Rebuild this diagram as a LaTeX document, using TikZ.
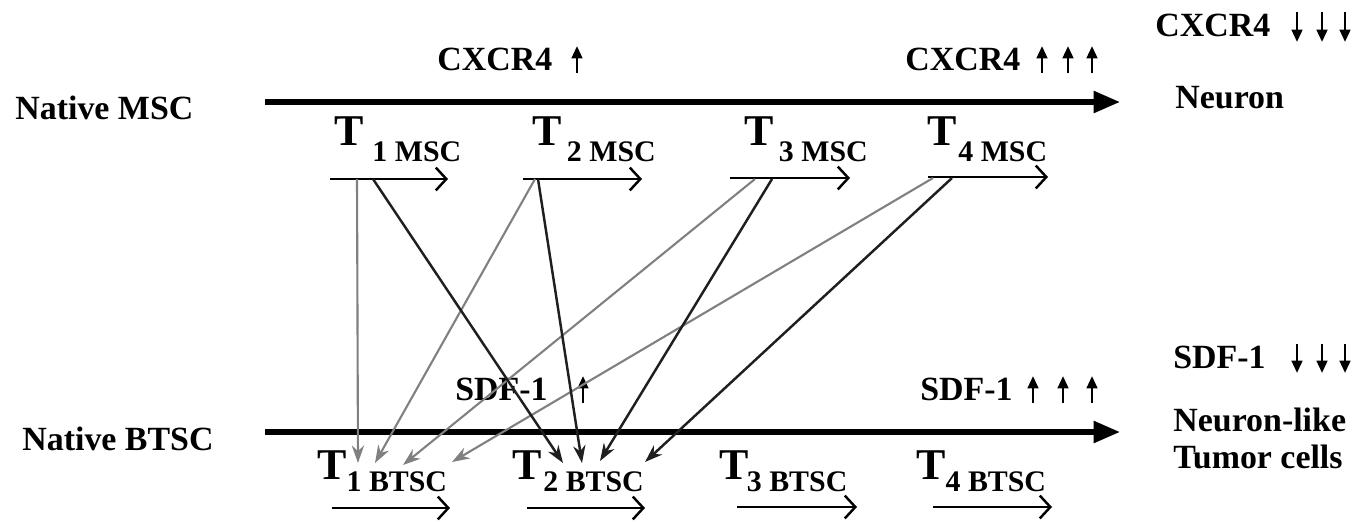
\documentclass[tikz,border=0pt]{standalone}
\usepackage{fontspec}
\setmainfont{Liberation Serif}
\usetikzlibrary{arrows.meta}
\newcommand\TTlab[3]{{\fontsize{25}{25}\selectfont T}\hspace{#3}\raisebox{-#2}{\fontsize{17}{17}\selectfont #1}}
\begin{document}
\begin{tikzpicture}[x=0.02cm,y=-0.02cm,
  lab/.style={inner sep=0pt,anchor=base west,font=\fontsize{19.3}{22}\selectfont\bfseries},
  tlab/.style={inner sep=0pt,anchor=base west,font=\bfseries},
  mainarr/.style={line width=3pt,-{Triangle[length=15pt,width=12pt]}},
  steparr/.style={line width=1.4pt,-{Straight Barb[length=6pt,width=13pt]}},
  garr/.style={draw=black!50,line width=1.2pt,-{Stealth[length=10pt,width=7pt]}},
  barr/.style={draw=black!88,line width=1.4pt,-{Stealth[length=10pt,width=7pt]}},
  levarr/.style={line width=1.5pt,-{Triangle[length=7pt,width=6pt]}}
]
\useasboundingbox (0,0) rectangle (1368,521);

% labels left and right
\node[lab] (nmsc) at (15,119) {Native MSC};
\node[lab] (nbtsc) at (22,450) {Native BTSC};
\node[lab] (neuron) at (1175,108) {Neuron};
\node[lab] (cxd) at (1155,36) {CXCR4};
\node[lab] (sdfd) at (1173,368) {SDF-1};
\node[lab,align=left,anchor=north west] (ntc) at (1173,408) {Neuron-like\\[-1pt]Tumor cells};

% marker labels
\node[lab] (cx1) at (437,70) {CXCR4};
\node[lab] (cx3) at (905,70) {CXCR4};
\node[lab] (sdf1) at (455,400) {SDF-1};
\node[lab] (sdf3) at (920,400) {SDF-1};

% level arrows (up / down)
\foreach \x in {577} {\draw[levarr] (\x,73) -- (\x,46);}
\foreach \x in {1042,1068,1092} {\draw[levarr] (\x,73) -- (\x,46);}
\foreach \x in {583} {\draw[levarr] (\x,403) -- (\x,376);}
\foreach \x in {1033,1063,1092} {\draw[levarr] (\x,403) -- (\x,376);}
\foreach \x in {1297,1322,1345} {\draw[levarr] (\x,12) -- (\x,42);}
\foreach \x in {1297,1322,1345} {\draw[levarr] (\x,344) -- (\x,373);}

% main arrows
\coordinate (ms) at (265,102);
\coordinate (me) at (1120,102);
\coordinate (bs) at (265,432);
\coordinate (be) at (1120,432);
\draw[mainarr] (ms) -- (me);
\draw[mainarr] (bs) -- (be);

% time labels MSC
\node[tlab] (tm1) at (334,145) {\TTlab{1 MSC}{9.6pt}{5pt}};
\node[tlab] (tm2) at (532,145) {\TTlab{2 MSC}{9.6pt}{3pt}};
\node[tlab] (tm3) at (744,145) {\TTlab{3 MSC}{9.6pt}{3pt}};
\node[tlab] (tm4) at (927,145) {\TTlab{4 MSC}{9.6pt}{1pt}};
% time labels BTSC
\node[tlab] (tb1) at (317,479) {\TTlab{1 BTSC}{7pt}{0pt}};
\node[tlab] (tb2) at (512,479) {\TTlab{2 BTSC}{7pt}{1pt}};
\node[tlab] (tb3) at (719,479) {\TTlab{3 BTSC}{7pt}{-1pt}};
\node[tlab] (tb4) at (916,479) {\TTlab{4 BTSC}{7pt}{0pt}};

% step arrows
\coordinate (sm1s) at (330,179); \coordinate (sm1e) at (448,179);
\coordinate (sm2s) at (523,179); \coordinate (sm2e) at (642,179);
\coordinate (sm3s) at (730,178); \coordinate (sm3e) at (850,178);
\coordinate (sm4s) at (928,177); \coordinate (sm4e) at (1048,177);
\coordinate (sb1s) at (332,508); \coordinate (sb1e) at (450,508);
\coordinate (sb2s) at (527,508); \coordinate (sb2e) at (645,508);
\coordinate (sb3s) at (737,507); \coordinate (sb3e) at (857,507);
\coordinate (sb4s) at (933,507); \coordinate (sb4e) at (1052,507);
\foreach \n in {m1,m2,m3,m4,b1,b2,b3,b4}{\draw[steparr] (s\n s) -- (s\n e);}

% connector origins
\coordinate (m1a) at (357,179); \coordinate (m1b) at (373,179);
\coordinate (m2a) at (535,179); \coordinate (m2b) at (538,179);
\coordinate (m3a) at (755,179); \coordinate (m3b) at (772,179);
\coordinate (m4a) at (933,178); \coordinate (m4b) at (952,178);
% connector targets
\coordinate (b1a) at (358,463); \coordinate (b1b) at (375,463);
\coordinate (b1c) at (403,465); \coordinate (b1d) at (452,462);
\coordinate (b2a) at (563,463); \coordinate (b2b) at (582,463);
\coordinate (b2c) at (600,461); \coordinate (b2d) at (645,462);

\draw[garr] (m1a) -- (b1a);
\draw[garr] (m2a) -- (b1b);
\draw[garr] (m3a) -- (b1c);
\draw[garr] (m4a) -- (b1d);
\draw[barr] (m1b) -- (b2a);
\draw[barr] (m2b) -- (b2b);
\draw[barr] (m3b) -- (b2c);
\draw[barr] (m4b) -- (b2d);
\end{tikzpicture}
\end{document}
